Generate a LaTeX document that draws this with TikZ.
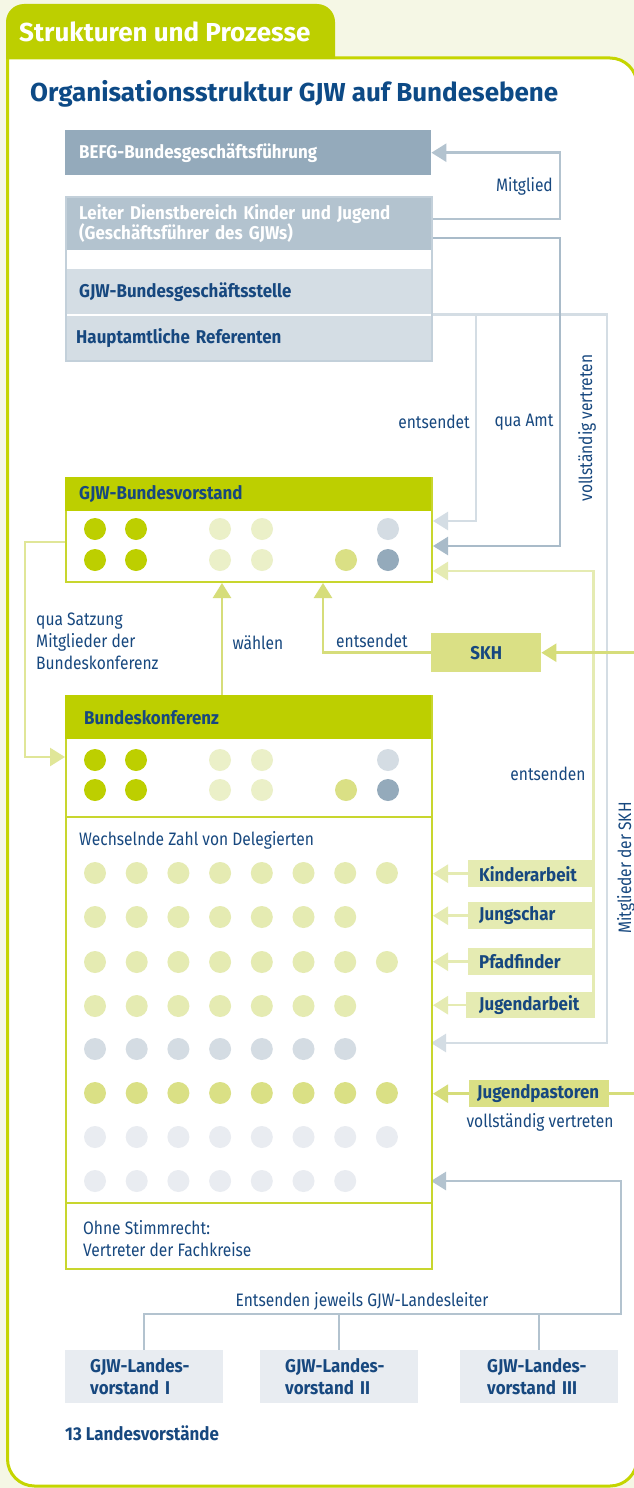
\documentclass[tikz,border=0pt]{standalone}
\usepackage{fontspec}
\setmainfont{Fira Sans}
\newfontfamily\cf{Fira Sans}[FakeStretch=0.865]
\newfontfamily\cfb{Fira Sans}[FakeStretch=0.915]
\newfontfamily\hf{Fira Sans}
\usetikzlibrary{arrows.meta}
\definecolor{cream}{HTML}{F5F7E5}
\definecolor{gA}{HTML}{BDCF00}
\definecolor{gFr}{HTML}{C5D500}
\definecolor{gB}{HTML}{C8D62E}
\definecolor{gVL}{HTML}{EBF0C8}
\definecolor{gL}{HTML}{E5EBB2}
\definecolor{gO}{HTML}{DAE085}
\definecolor{cO}{HTML}{D6DD7A}
\definecolor{cQS}{HTML}{E0E698}
\definecolor{bL}{HTML}{D4DCE3}
\definecolor{bD}{HTML}{94AABB}
\definecolor{bVL}{HTML}{E9ECF1}
\definecolor{cBEFG}{HTML}{94AABB}
\definecolor{cLeit}{HTML}{B3C3CF}
\definecolor{cGS}{HTML}{D4DDE4}
\definecolor{cGSb}{HTML}{C3D0DA}
\definecolor{cMit}{HTML}{B3C3CF}
\definecolor{cAmt}{HTML}{A9BBC9}
\definecolor{cLG}{HTML}{D4DDE4}
\definecolor{cLV}{HTML}{E8ECF1}
\definecolor{tc}{HTML}{17487F}
\definecolor{ttc}{HTML}{0D4A86}
\pgfdeclarelayer{back}
\pgfdeclarelayer{bg}
\pgfsetlayers{back,bg,main}
\begin{document}
\begin{tikzpicture}[x=1pt,y=-1pt,
 ln/.style={line width=2.5pt},
 arr/.style={ln, -{Triangle[length=15pt,width=18pt]}},
 lbl/.style={inner sep=0pt, text=tc, font=\cf\fontsize{18}{22}\selectfont},
 blbl/.style={lbl, font=\cfb\bfseries\fontsize{18.5}{22}\selectfont},
 tbox/.style={rectangle, anchor=north west, inner ysep=0pt, inner xsep=14pt, text width=338pt, align=left, font=\cfb\bfseries\fontsize{18.5}{20}\selectfont},
 sbox/.style={rectangle, anchor=north west, inner ysep=0pt, inner xsep=11pt, text width=103pt, minimum height=27pt, align=left, fill=gL, text=tc, font=\cfb\bfseries\fontsize{18.5}{20}\selectfont},
 lvbox/.style={rectangle, anchor=north west, inner ysep=0pt, inner xsep=25pt, text width=108pt, minimum height=53pt, align=left, fill=cLV, text=tc, font=\cfb\bfseries\fontsize{18.5}{22}\selectfont},
]
\useasboundingbox (0,0) rectangle (634,1488);
\begin{pgfonlayer}{back}
\fill[cream] (0,0) rectangle (634,1488);
\fill[white] (300,58) [rounded corners=27pt] -- (637,58) -- (637,1486) -- (7.5,1486) -- (7.5,200) [sharp corners] -- (7.5,58) -- cycle;
\draw[gFr, line width=3pt] (300,58) [rounded corners=27pt] -- (637,58) -- (637,1486) -- (7.5,1486) -- (7.5,200) [sharp corners] -- (7.5,58) -- (300,58);
\fill[gA, rounded corners=18pt] (6,59) -- (6,4) -- (335,4) -- (335,59);
\end{pgfonlayer}

% headings
\node[anchor=base west, inner sep=0pt, text=white, font=\hf\bfseries\fontsize{26}{28}\selectfont] (tab) at (19,42) {Strukturen und Prozesse};
\node[anchor=base west, inner sep=0pt, text=ttc, font=\hf\bfseries\fontsize{26}{28}\selectfont] (title) at (30,101) {Organisationsstruktur GJW auf Bundesebene};

% top boxes
\node[tbox, fill=cBEFG, text=white, minimum height=45pt] (befg) at (65,130) {BEFG-Bundesgeschäftsführung};
\node[tbox, fill=cLeit, text=white, minimum height=54pt] (leiter) at (65,196) {Leiter Dienstbereich Kinder und Jugend\\(Geschäftsführer des GJWs)};
\node[tbox, fill=cGS, text=tc, minimum height=45pt] (gs) at (65,269) {GJW-Bundesgeschäftsstelle};
\node[tbox, fill=cGS, text=tc, minimum height=44pt, inner xsep=11pt, text width=344pt] (ref) at (65,316) {Hauptamtliche Referenten};
\node[draw=cGSb, line width=1.5pt, anchor=north west, minimum width=366pt, minimum height=164pt] (grp) at (65,196) {};

% Bundesvorstand
\node[draw=gB, line width=2pt, anchor=north west, minimum width=366pt, minimum height=104pt] (bv) at (65,477) {};
\node[tbox, fill=gA, text=tc, minimum height=34pt] (bvh) at (65,477) {GJW-Bundesvorstand};
\foreach \y in {529,560} {
 \foreach \x in {95,136} \fill[gA] (\x,\y) circle (11pt);
 \foreach \x in {220,262} \fill[gVL] (\x,\y) circle (11pt);
}
\fill[bL] (388,529) circle (11pt);
\fill[gO] (346,560) circle (11pt);
\fill[bD] (388,560) circle (11pt);

% Bundeskonferenz
\node[draw=gB, line width=2pt, anchor=north west, minimum width=366pt, minimum height=573pt] (bk) at (65,695) {};
\node[tbox, fill=gA, text=tc, minimum height=44pt, inner xsep=19pt, text width=328pt] (bkh) at (65,695) {Bundeskonferenz};
\foreach \y in {760,790} {
 \foreach \x in {95,136} \fill[gA] (\x,\y) circle (11pt);
 \foreach \x in {220,262} \fill[gVL] (\x,\y) circle (11pt);
}
\fill[bL] (388,760) circle (11pt);
\fill[gO] (346,790) circle (11pt);
\fill[bD] (388,790) circle (11pt);
\draw[gB, line width=2pt] (65,817) -- (431,817);
\draw[gB, line width=2pt] (65,1203) -- (431,1203);
\node[lbl, anchor=west] (lwz) at (79,840) {Wechselnde Zahl von Delegierten};
\foreach \y/\n/\c in {873/7/gL, 917/6/gL, 962/7/gL, 1006/6/gL, 1049/6/bL, 1093/7/gO, 1137/7/bVL, 1181/6/bVL}
 \foreach \i in {0,...,\n} \fill[\c] (95+41.7*\i,\y) circle (11pt);
\node[lbl, align=left, anchor=west] (lohne) at (83,1239) {Ohne Stimmrecht:\\Vertreter der Fachkreise};

% SKH and side boxes
\node[rectangle, fill=gO, text=tc, minimum width=110pt, minimum height=39pt, anchor=north west, inner sep=0pt, font=\cfb\bfseries\fontsize{18.5}{20}\selectfont] (skh) at (431,633) {SKH};
\node[sbox] (ka) at (468,860) {Kinderarbeit};
\node[sbox] (js) at (468,902) {Jungschar};
\node[sbox] (pf) at (468,948) {Pfadfinder};
\node[sbox, inner xsep=13pt, minimum height=26pt] (ja) at (466,992) {Jugendarbeit};
\node[sbox, fill=gO, inner xsep=8pt, text width=124pt] (jp) at (469,1080) {Jugendpastoren};

% Landesvorstaende
\node[lvbox] (lv1) at (65,1350) {GJW-Landes-\\vorstand I};
\node[lvbox] (lv2) at (260,1350) {GJW-Landes-\\vorstand II};
\node[lvbox, inner xsep=27pt, text width=104pt] (lv3) at (460,1350) {GJW-Landes-\\vorstand III};

% labels
\node[lbl, anchor=east] (lmit) at (553,186) {Mitglied};
\node[lbl, anchor=east] (lent) at (470,422) {entsendet};
\node[lbl] (lamt) at (524,422) {qua Amt};
\node[lbl, rotate=90] (lvv) at (587,428) {vollständig vertreten};
\node[lbl, align=left, anchor=west] (lqs) at (36,641) {qua Satzung\\Mitglieder der\\Bundeskonferenz};
\node[lbl] (lwa) at (258,643) {wählen};
\node[lbl] (lent2) at (372,641) {entsendet};
\node[lbl] (lents) at (548,774) {entsenden};
\node[lbl, rotate=90] (lmsk) at (626,868) {Mitglieder der SKH};
\node[lbl] (lvv2) at (540,1122) {vollständig vertreten};
\node[lbl] (llan) at (362,1301) {Entsenden jeweils GJW-Landesleiter};
\node[blbl, anchor=west] (l13) at (65,1433) {13 Landesvorstände};

% connectors
\coordinate (mg) at (560,186);
\coordinate (vv) at (607,700);
\coordinate (es) at (476,400);
\coordinate (qa) at (560,400);
\coordinate (bkG) at (431,1043);
\coordinate (sk) at (642,870);
\coordinate (en) at (323,600);
\coordinate (qs) at (25,650);
\coordinate (bkS) at (65,757);
\coordinate (lc) at (621,1314);
\coordinate (bkL) at (431,1181);
\begin{pgfonlayer}{bg}
\draw[arr, cMit] ([yshift=4pt]leiter.east) -| (mg) |- (befg.east);
\draw[arr, cLG] (gs.south east) -| (vv) |- (bkG);
\draw[arr, cLG] (es |- gs.south) |- ([yshift=9pt]bv.east);
\draw[arr, cAmt] ([yshift=-15pt]leiter.east) -| (qa) |- ([yshift=-16pt]bv.east);
\draw[arr, gL] (ja.north -| ka.east) |- ([yshift=-41pt]bv.east);
\foreach \b in {ka,js,pf,ja} \draw[arr, gL] (\b.west) -- (\b.west -| bk.east);
\draw[arr, cO] (jp.east) -| (sk) |- (skh.east);
\draw[arr, cO] (jp.west) -- (jp.west -| bk.east);
\draw[arr, cO] (skh.west) -| (en |- bv.south);
\draw[arr, cO] ([xshift=-27pt]bk.north) -- ([xshift=-27pt]bv.south);
\draw[arr, cQS] ([yshift=-12pt]bv.west) -| (qs) |- (bkS);
\draw[arr, cMit] (lv1.north) |- (lc) |- (bkL);
\draw[ln, cMit] (lv2.north) -- (lv2.north |- lc);
\draw[ln, cMit] (lv3.north) -- (lv3.north |- lc);
\end{pgfonlayer}
\end{tikzpicture}
\end{document}
